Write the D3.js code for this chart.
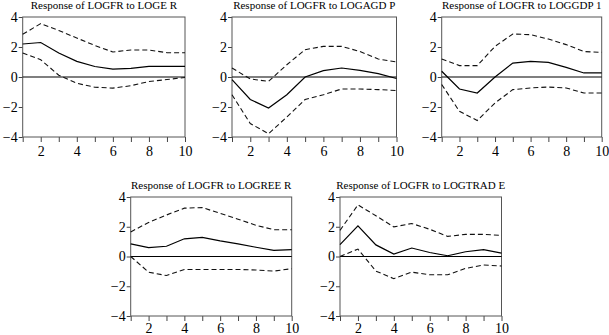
<!DOCTYPE html>
<html>
<head>
<meta charset="utf-8">
<script src="https://cdn.jsdelivr.net/npm/d3@7"></script>
<style>
html,body{margin:0;padding:0;background:#fff;}
svg{display:block;}
svg text{font-family:"Liberation Serif","Tinos","Times New Roman","DejaVu Serif",serif !important;fill:#000;}
</style>
</head>
<body>
<svg id="chart" width="609" height="335"></svg>
<script>
// ---- data ----
const periods = [1,2,3,4,5,6,7,8,9,10];
const yTicks = [-4,-2,0,2,4];
const xTickLabels = [2,4,6,8,10];
const titles = [
  "Response of LOGFR to LOGE R",
  "Response of LOGFR to LOGAGD P",
  "Response of LOGFR to LOGGDP 1",
  "Response of LOGFR to LOGREE R",
  "Response of LOGFR to LOGTRAD E"
];
// LOGE R
const respER = [2.2, 2.3, 1.6, 1.04, 0.7, 0.52, 0.58, 0.71, 0.71, 0.71];
const upER   = [2.85, 3.56, 3.1, 2.6, 2.1, 1.67, 1.8, 1.8, 1.62, 1.62];
const loER   = [1.6, 1.15, 0.12, -0.42, -0.68, -0.74, -0.58, -0.3, -0.17, -0.03];
// LOGAGD P
const respAGDP = [-0.18, -1.5, -2.07, -1.18, 0.0, 0.42, 0.6, 0.44, 0.22, -0.1];
const upAGDP   = [0.6, -0.13, -0.29, 0.82, 1.82, 2.04, 2.04, 1.7, 1.2, 1.0];
const loAGDP   = [-1.18, -3.1, -3.78, -2.67, -1.5, -1.18, -0.8, -0.8, -0.84, -0.9];
// LOGGDP 1
const respGDP = [0.38, -0.8, -1.07, 0.0, 0.93, 1.04, 0.98, 0.64, 0.27, 0.27];
const upGDP   = [1.2, 0.76, 0.76, 2.04, 2.87, 2.82, 2.53, 2.16, 1.7, 1.64];
const loGDP   = [-0.5, -2.29, -2.9, -1.73, -0.84, -0.73, -0.67, -0.73, -1.07, -1.07];
// LOGREE R
const respREER = [0.85, 0.6, 0.69, 1.19, 1.28, 1.05, 0.85, 0.62, 0.41, 0.46];
const upREER   = [1.65, 2.29, 2.79, 3.25, 3.29, 2.9, 2.51, 2.1, 1.8, 1.8];
const loREER   = [0.0, -1.05, -1.28, -0.87, -0.87, -0.87, -0.87, -0.91, -0.98, -0.82];
// LOGTRAD E
const respTRADE = [0.8, 2.06, 0.78, 0.16, 0.57, 0.27, 0.05, 0.32, 0.46, 0.23];
const upTRADE   = [1.76, 3.47, 2.74, 1.99, 2.22, 1.83, 1.35, 1.49, 1.49, 1.42];
const loTRADE   = [0.0, 0.5, -0.98, -1.49, -1.05, -1.23, -1.23, -0.8, -0.57, -0.64];

// ---- layout ----
const boxes = [
  {x0:22.7, x1:185,   y0:17,  y1:137, pad:4},
  {x0:232,  x1:396.5, y0:17,  y1:137, pad:4},
  {x0:441.7,x1:601.7, y0:17,  y1:137, pad:4},
  {x0:130.7,x1:291.7, y0:197, y1:316, pad:2},
  {x0:340,  x1:501.5, y0:197, y1:316, pad:2}
];
const series = [
  [respER, upER, loER],
  [respAGDP, upAGDP, loAGDP],
  [respGDP, upGDP, loGDP],
  [respREER, upREER, loREER],
  [respTRADE, upTRADE, loTRADE]
];

const FONT = '"Liberation Serif","Tinos","Times New Roman","DejaVu Serif",serif';
const svg = d3.select("#chart");

boxes.forEach((b, i) => {
  const x = d3.scaleLinear().domain([1,10]).range([b.x0, b.x1]);
  const y = d3.scaleLinear().domain([-4,4]).range([b.y1, b.y0]);
  const g = svg.append("g");

  // title
  g.append("text")
    .attr("x", (b.x0 + b.x1) / 2)
    .attr("y", b.y0 - 8)
    .attr("text-anchor", "middle")
    .style("font-size", "11px")
    .style("font-family", FONT)
    .text(titles[i]);

  // y axis
  const ya = g.append("g")
    .attr("transform", `translate(${b.x0},0)`)
    .call(d3.axisLeft(y).tickValues(yTicks).tickSize(4).tickSizeOuter(0).tickPadding(1));
  ya.attr("font-family", null);
  ya.select(".domain").remove();
  ya.selectAll("line").attr("stroke", "#444");
  ya.selectAll("text").style("font-size", "14px").style("font-family", FONT);

  // x axis
  const xa = g.append("g")
    .attr("transform", `translate(0,${b.y1})`)
    .call(d3.axisBottom(x).tickValues(periods).tickSize(5).tickSizeOuter(0).tickPadding(b.pad)
      .tickFormat(d => xTickLabels.includes(d) ? d : ""));
  xa.attr("font-family", null);
  xa.select(".domain").remove();
  xa.selectAll("line").attr("stroke", "#444");
  xa.selectAll("text").style("font-size", "14px").style("font-family", FONT);

  // frame
  g.append("rect")
    .attr("x", b.x0).attr("y", b.y0)
    .attr("width", b.x1 - b.x0).attr("height", b.y1 - b.y0)
    .attr("fill", "none").attr("stroke", "#555").attr("stroke-width", 1);

  // zero line
  g.append("line")
    .attr("x1", b.x0).attr("x2", b.x1)
    .attr("y1", y(0)).attr("y2", y(0))
    .attr("stroke", "#000").attr("stroke-width", 1.1);

  const line = d3.line().x((d, k) => x(periods[k])).y(d => y(d));
  const [resp, up, lo] = series[i];
  g.append("path").datum(up).attr("d", line)
    .attr("fill", "none").attr("stroke", "#111").attr("stroke-width", 1.1)
    .attr("stroke-dasharray", "5,3");
  g.append("path").datum(lo).attr("d", line)
    .attr("fill", "none").attr("stroke", "#111").attr("stroke-width", 1.1)
    .attr("stroke-dasharray", "5,3");
  g.append("path").datum(resp).attr("d", line)
    .attr("fill", "none").attr("stroke", "#000").attr("stroke-width", 1.2);
});
</script>
</body>
</html>
